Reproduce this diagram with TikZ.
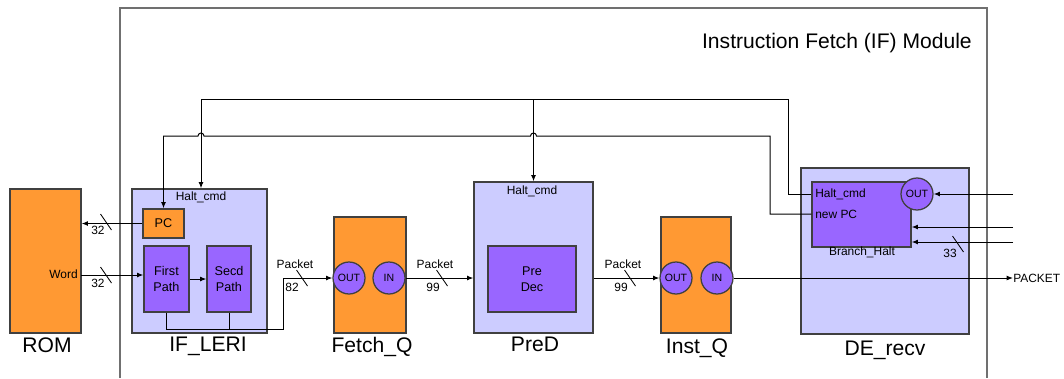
\documentclass[tikz,border=0pt]{standalone}
\usepackage{fontspec}
\setmainfont{Liberation Sans}
\usetikzlibrary{calc,arrows.meta}
\definecolor{orng}{HTML}{FF9933}
\definecolor{lav}{HTML}{CCCCFF}
\definecolor{vio}{HTML}{9966FF}
\definecolor{edge}{HTML}{404040}
\definecolor{rim}{HTML}{707070}
\tikzset{
  box/.style 2 args={draw=edge, line width=0.9pt, minimum width=#1*0.025cm, minimum height=#2*0.025cm, inner sep=0pt},
  mem/.style={fill=orng},
  mod/.style={fill=lav},
  sub/.style={fill=vio, align=center, font=\fontsize{9}{11.5}\selectfont},
  port/.style={circle, draw=edge, fill=vio, line width=0.9pt, minimum size=32*0.025cm, inner sep=0pt, font=\fontsize{7.5}{9}\selectfont},
  wire/.style={draw=black, line width=0.7pt},
  arr/.style={wire, -{Latex[length=4.5pt,width=3.5pt]}},
  busmark/.style={draw=black, line width=0.6pt},
  lab/.style={inner sep=0pt, font=\fontsize{8.5}{10}\selectfont},
  big/.style={inner sep=0pt, font=\fontsize{15}{18}\selectfont}
}

\begin{document}
\begin{tikzpicture}[x=0.025cm, y=-0.025cm]
  \useasboundingbox (0,0) rectangle (1064,378);
  % module frame
  \draw[rim, line width=0.8pt] (120,378) -- (120,8) -- (987,8) -- (987,378);
  \node[big, anchor=north east] (title) at (972,33) {Instruction Fetch (IF) Module};

  % blocks
  \node[box={71}{144}, mem] (rom) at (45.5,261) {};
  \node[box={135}{144}, mod] (ifleri) at (199.5,261) {};
  \node[box={41}{29}, mem, font=\fontsize{9}{11}\selectfont] (pc) at (163.5,223.5) {PC};
  \node[box={45}{66}, sub] (first) at (166.5,279) {First\\Path};
  \node[box={44}{66}, sub] (secd) at (229,279) {Secd\\Path};
  \node[box={72}{116}, mem] (fq) at (370,275) {};
  \node[port] (fqout) at (349,278) {OUT};
  \node[port] (fqin) at (389,278) {IN};
  \node[box={119}{151}, mod] (pred) at (533.5,257.5) {};
  \node[box={88}{66}, sub] (predec) at (532,279) {Pre\\Dec};
  \node[box={70}{116}, mem] (iq) at (696,275) {};
  \node[port] (iqout) at (676,278) {OUT};
  \node[port] (iqin) at (717,278) {IN};
  \node[box={168}{166}, mod] (de) at (885,251) {};
  \node[box={99}{65}, sub] (bh) at (861.5,214.5) {};
  \node[port] (bhout) at (917,194) {OUT};

  % texts
  \node[lab, anchor=north] (ifhalt) at (201,192) {Halt\_cmd};
  \node[lab, anchor=north] (prehalt) at (532,186) {Halt\_cmd};
  \node[lab, anchor=west] (bhhalt) at (815,194) {Halt\_cmd};
  \node[lab, anchor=west] (bhpc) at (815,214) {new PC};
  \node[lab] (bhname) at (862,252) {Branch\_Halt};
  \node[lab, anchor=east] (word) at (78,274) {Word};
  \node[big, anchor=north] (romlab) at (47,337) {ROM};
  \node[big, anchor=north] (iflab) at (208,337) {IF\_LERI};
  \node[big, anchor=north] (fqlab) at (372,337) {Fetch\_Q};
  \node[big, anchor=north] (predlab) at (535,337) {PreD};
  \node[big, anchor=north] (iqlab) at (697,338) {Inst\_Q};
  \node[big, anchor=north] (delab) at (885,341) {DE\_recv};

  \coordinate (rd) at (81,275);
  \coordinate (bend) at (283,329);
  \coordinate (hc) at (788,99);
  \coordinate (np) at (770,136);
  \coordinate (in1) at (1013,194);
  \coordinate (in2) at (1013,227);
  \coordinate (in3) at (1013,242);
  \coordinate (pkt) at (1013,278);

  % data path
  \draw[arr] (pc.west) -- (pc.west -| rom.east);
  \draw[arr] (rd) -- (rd -| first.west);
  \draw[arr] (first.east) -- (secd.west);
  \draw[arr] (first.south) -- (first.south |- bend) -- (bend) |- (fqout.west);
  \draw[wire] (secd.south) -- (secd.south |- bend);
  \draw[arr] (fqin.east) -- (fqin.east -| pred.west);
  \draw[arr] (iqout.west -| pred.east) -- (iqout.west);
  \draw[arr] (iqin.east) -- (pkt);
  \node[lab, anchor=west] (pktlab) at (pkt) {PACKET};

  % feedback from Branch_Halt
  \draw[arr] (bh.west |- bhhalt) -| (hc) -| (ifleri.north -| ifhalt);
  \draw[arr] (hc -| pred.north) -- (pred.north);
  \draw[arr] (bh.west |- bhpc) -| (np) -- ($(np -| pred.north)+(3,0)$)
    arc[start angle=0, end angle=180, radius=0.075cm]
    -- ($(np -| ifhalt)+(3,0)$)
    arc[start angle=0, end angle=180, radius=0.075cm]
    -- (np -| pc.north) -- (pc.north);
  \draw[arr] (in1) -- (bhout.east);
  \draw[arr] (in2) -- (in2 -| bh.east);
  \draw[arr] (in3) -- (in3 -| bh.east);

  % bus widths
  \foreach \sx/\sy in {106/222, 106/275, 302/278, 442/278, 630/278, 958/244}
    \draw[busmark] (\sx-5.5,\sy-8) -- (\sx+5.5,\sy+8);
  \foreach \lx/\ly/\w in {98/230/32, 98/283/32, 292/287/82, 433/287/99, 621/287/99, 950/253/33}
    \node[lab] (bw-\lx-\ly) at (\lx,\ly) {\w};
  \foreach \px in {295,435,623}
    \node[lab] (pk-\px) at (\px,264) {Packet};
\end{tikzpicture}
\end{document}
